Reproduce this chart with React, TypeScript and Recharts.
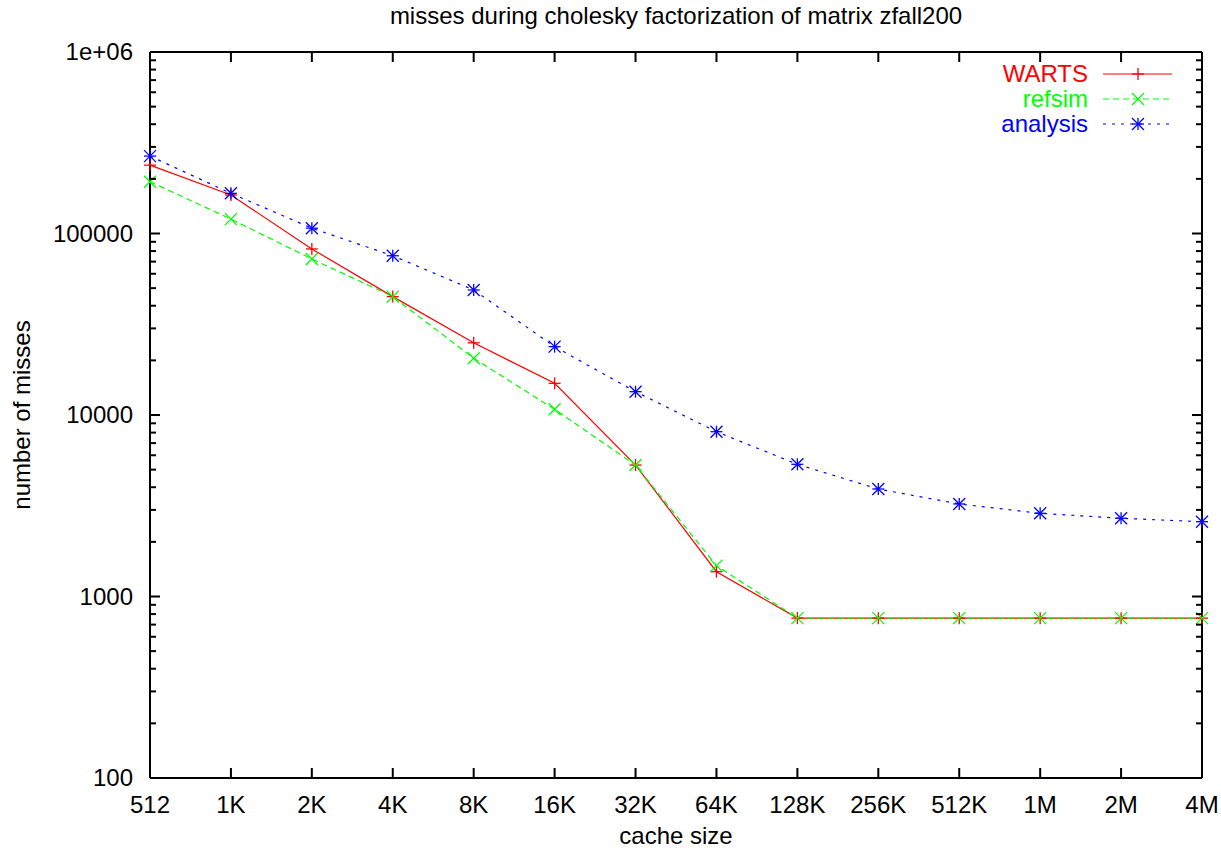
import { LineChart, Line, XAxis, YAxis, Legend } from "recharts";

const cacheSizes = ["512", "1K", "2K", "4K", "8K", "16K", "32K", "64K", "128K", "256K", "512K", "1M", "2M", "4M"];
const warts = [238000, 163000, 82200, 44900, 25000, 14950, 5300, 1370, 760, 760, 760, 760, 760, 760];
const refsim = [193000, 120000, 72400, 44900, 20540, 10750, 5300, 1479, 760, 760, 760, 760, 760, 760];
const analysis = [267000, 166500, 107000, 75400, 48850, 23800, 13440, 8090, 5350, 3910, 3235, 2873, 2697, 2583];

const majorTicks = [100, 1000, 10000, 100000, 1000000];
const allYTicks = [100, 200, 300, 400, 500, 600, 700, 800, 900, 1000, 2000, 3000, 4000, 5000, 6000, 7000, 8000, 9000,
  10000, 20000, 30000, 40000, 50000, 60000, 70000, 80000, 90000, 100000, 200000, 300000, 400000, 500000, 600000,
  700000, 800000, 900000, 1000000];

const data = cacheSizes.map((size, i) => ({
  size,
  warts: warts[i],
  refsim: refsim[i],
  analysis: analysis[i],
}));

const FONT = "'Liberation Sans', Arial, Helvetica, sans-serif";
const FS = 24;

const series = [
  { key: "warts", name: "WARTS", color: "#ff0000", dash: undefined, mark: "plus" },
  { key: "refsim", name: "refsim", color: "#00ff00", dash: "6 4", mark: "cross" },
  { key: "analysis", name: "analysis", color: "#0000ff", dash: "3 6", mark: "star" },
];

const Marker = ({ cx, cy, color, mark }: any) => {
  const s = 6;
  const plus = (
    <>
      <line x1={cx - s} y1={cy} x2={cx + s} y2={cy} stroke={color} strokeWidth={1.3} />
      <line x1={cx} y1={cy - s} x2={cx} y2={cy + s} stroke={color} strokeWidth={1.3} />
    </>
  );
  const cross = (
    <>
      <line x1={cx - s} y1={cy - s} x2={cx + s} y2={cy + s} stroke={color} strokeWidth={1.3} />
      <line x1={cx - s} y1={cy + s} x2={cx + s} y2={cy - s} stroke={color} strokeWidth={1.3} />
    </>
  );
  return (
    <g>
      {(mark === "plus" || mark === "star") && plus}
      {(mark === "cross" || mark === "star") && cross}
    </g>
  );
};

const makeDot = (color: string, mark: string) => (props: any) => {
  if (props.cx == null || props.cy == null) return <g key={props.key} />;
  return <Marker key={props.key} cx={props.cx} cy={props.cy} color={color} mark={mark} />;
};

const yLabel = (v: number) => (v === 1000000 ? "1e+06" : String(v));

// ticks point into the plot, as gnuplot draws them
const LeftTick = ({ x, y, payload }: any) => {
  const major = majorTicks.includes(payload.value);
  return (
    <g>
      <line x1={x} y1={y} x2={x + (major ? 10 : 6)} y2={y} stroke="#000" strokeWidth={2} />
      {major && (
        <text x={x - 17} y={y + 8} textAnchor="end" fontSize={FS} fontFamily={FONT} fill="#000">
          {yLabel(payload.value)}
        </text>
      )}
    </g>
  );
};

const RightTick = ({ x, y, payload }: any) => {
  const major = majorTicks.includes(payload.value);
  return <line x1={x} y1={y} x2={x - (major ? 10 : 6)} y2={y} stroke="#000" strokeWidth={2} />;
};

const BottomTick = ({ x, y, payload }: any) => (
  <g>
    <line x1={x} y1={y} x2={x} y2={y - 10} stroke="#000" strokeWidth={2} />
    <text x={x} y={y + 35} textAnchor="middle" fontSize={FS} fontFamily={FONT} fill="#000">
      {payload.value}
    </text>
  </g>
);

const TopTick = ({ x, y }: any) => <line x1={x} y1={y} x2={x} y2={y + 10} stroke="#000" strokeWidth={2} />;

const LegendBox = () => (
  <svg width={260} height={80}>
    {series.map((s, i) => {
      const cy = 14 + i * 25;
      return (
        <g key={s.key}>
          <text x={158} y={cy + 8} textAnchor="end" fontSize={FS} fontFamily={FONT} fill={s.color}>
            {s.name}
          </text>
          <line x1={173} y1={cy} x2={242} y2={cy} stroke={s.color} strokeWidth={1.2} strokeDasharray={s.dash} />
          <Marker cx={208} cy={cy} color={s.color} mark={s.mark} />
        </g>
      );
    })}
  </svg>
);

export default function App() {
  return (
    <div>
      <style>{`body{margin:0;background:#fff}`}</style>
      <LineChart width={1221} height={850} data={data} margin={{ top: 51, right: 18, bottom: 0, left: 0 }}>
        <XAxis
          xAxisId="bottom"
          dataKey="size"
          height={72}
          interval={0}
          tickSize={0}
          tickMargin={0}
          tick={<BottomTick />}
          axisLine={{ stroke: "#000", strokeWidth: 2 }}
          label={{
            content: (p: any) => (
              <text x={p.viewBox.x + p.viewBox.width / 2} y={p.viewBox.y + 66} textAnchor="middle" fontSize={FS} fontFamily={FONT} fill="#000">
                cache size
              </text>
            ),
          }}
        />
        <XAxis
          xAxisId="top"
          orientation="top"
          dataKey="size"
          height={1}
          interval={0}
          tickSize={0}
          tickMargin={0}
          tick={<TopTick />}
          axisLine={{ stroke: "#000", strokeWidth: 2 }}
          label={{
            content: (p: any) => (
              <text x={p.viewBox.x + p.viewBox.width / 2} y={24} textAnchor="middle" fontSize={FS} fontFamily={FONT} fill="#000">
                misses during cholesky factorization of matrix zfall200
              </text>
            ),
          }}
        />
        <YAxis
          yAxisId="left"
          scale="log"
          domain={[100, 1000000]}
          allowDataOverflow
          ticks={allYTicks}
          interval={0}
          width={150}
          tickSize={0}
          tickMargin={0}
          tick={<LeftTick />}
          axisLine={{ stroke: "#000", strokeWidth: 2 }}
          label={{
            content: (p: any) => {
              const cy = p.viewBox.y + p.viewBox.height / 2;
              return (
                <text x={30} y={cy} transform={`rotate(-90 30 ${cy})`} textAnchor="middle" fontSize={FS} fontFamily={FONT} fill="#000">
                  number of misses
                </text>
              );
            },
          }}
        />
        <YAxis
          yAxisId="right"
          orientation="right"
          scale="log"
          domain={[100, 1000000]}
          allowDataOverflow
          ticks={allYTicks}
          interval={0}
          width={1}
          tickSize={0}
          tickMargin={0}
          tick={<RightTick />}
          axisLine={{ stroke: "#000", strokeWidth: 2 }}
        />
        {/* invisible series so the mirrored top/right axes get a domain */}
        <Line
          xAxisId="top"
          yAxisId="right"
          dataKey="analysis"
          stroke="none"
          dot={false}
          activeDot={false}
          legendType="none"
          isAnimationActive={false}
        />
        {series.map((s) => (
          <Line
            key={s.key}
            xAxisId="bottom"
            yAxisId="left"
            type="linear"
            dataKey={s.key}
            name={s.name}
            stroke={s.color}
            strokeWidth={1.2}
            strokeDasharray={s.dash}
            dot={makeDot(s.color, s.mark)}
            activeDot={false}
            isAnimationActive={false}
          />
        ))}
        <Legend
          layout="horizontal"
          align="center"
          verticalAlign="middle"
          content={<LegendBox />}
          wrapperStyle={{ position: "absolute", left: 930, top: 60, width: 260, height: 80 }}
        />
      </LineChart>
    </div>
  );
}
